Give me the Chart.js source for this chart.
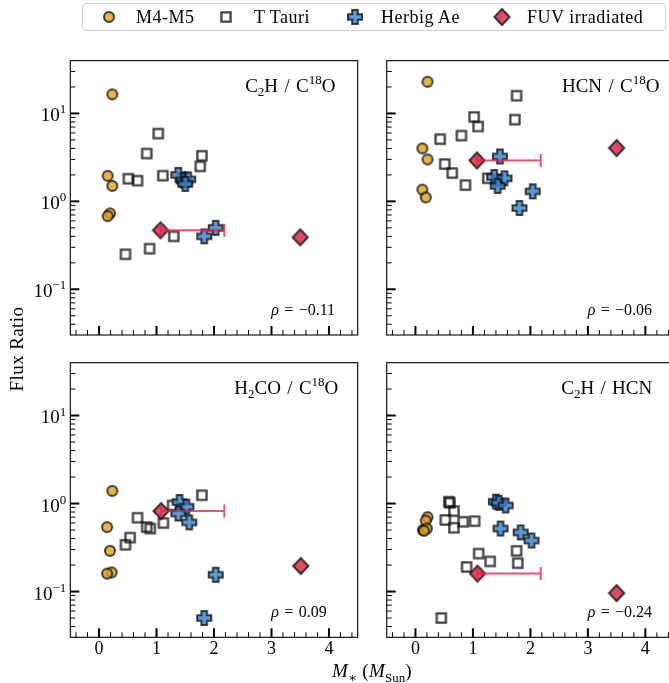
<!DOCTYPE html>
<html>
<head>
<meta charset="utf-8">
<script src="https://cdn.jsdelivr.net/npm/chart.js@4.4.1/dist/chart.umd.min.js"></script>
<style>
    body { margin: 0; background: #fff; width: 669px; height: 683px; overflow: hidden; position: relative;
           font-family: 'Liberation Serif', 'DejaVu Serif', serif; color: #000; }
    canvas.panel { position: absolute; left: 0; top: 0; }
    .abs { position: absolute; white-space: nowrap; }
    #legendBox { left: 82px; top: 3px; width: 584px; height: 28px; border: 1px solid #cfcfcf; border-radius: 4px; box-sizing: border-box; }
    .lg { font-size: 18px; letter-spacing: 0.5px; line-height: 20px; top: 7px; }
    .ax { font-size: 19px; letter-spacing: 0.4px; line-height: 20px; }
    sub, sup { font-size: 13px; line-height: 0; letter-spacing: 0; }
</style>
</head>
<body>
<canvas id="tl" class="panel" width="680" height="683"></canvas>
<canvas id="tr" class="panel" width="680" height="683"></canvas>
<canvas id="bl" class="panel" width="680" height="683"></canvas>
<canvas id="br" class="panel" width="680" height="683"></canvas>

<div id="legendBox" class="abs"></div>
<canvas id="lm0" class="abs" width="22" height="22" style="left:98px;top:6px"></canvas>
<span class="abs lg" style="left:136px">M4-M5</span>
<canvas id="lm1" class="abs" width="22" height="22" style="left:215px;top:6px"></canvas>
<span class="abs lg" style="left:254px">T Tauri</span>
<canvas id="lm2" class="abs" width="22" height="22" style="left:344px;top:6px"></canvas>
<span class="abs lg" style="left:381px">Herbig Ae</span>
<canvas id="lm3" class="abs" width="22" height="22" style="left:491px;top:6px"></canvas>
<span class="abs lg" style="left:527px">FUV irradiated</span>

<div class="abs ax" style="left:-33px;top:339px;width:100px;text-align:center;transform:rotate(-90deg)">Flux Ratio</div>
<div class="abs ax" style="left:312px;top:661px;width:120px;text-align:center"><i>M</i><sub>∗</sub> (<i>M</i><sub>Sun</sub>)</div>

<script>
// C2H / C18O
const c2h_M45 = [[0.23, 16.5], [0.15, 1.95], [0.23, 1.5], [0.19, 0.73], [0.15, 0.68]];
const c2h_TTau = [[1.03, 5.9], [0.83, 3.5], [0.51, 1.81], [0.67, 1.72], [1.11, 1.96], [1.79, 3.3],
                  [1.76, 2.5], [1.45, 1.85], [1.30, 0.40], [0.88, 0.29], [0.46, 0.25]];
const c2h_HAe = [[1.38, 2.0], [1.47, 1.72], [1.55, 1.78], [1.50, 1.58], [1.83, 0.40], [2.03, 0.50]];
const c2h_FUV = [[1.07, 0.47], [3.50, 0.39]];

// HCN / C18O
const hcn_M45 = [[0.21, 22.9], [0.12, 4.0], [0.21, 3.0], [0.12, 1.36], [0.18, 1.11]];
const hcn_TTau = [[1.76, 15.9], [1.02, 9.1], [1.09, 7.1], [1.73, 8.5], [0.80, 5.6], [0.43, 5.1],
                  [0.51, 2.66], [0.64, 2.1], [0.87, 1.53], [1.26, 1.83], [1.43, 1.70]];
const hcn_HAe = [[1.47, 3.24], [1.37, 1.89], [1.55, 1.83], [1.43, 1.5], [2.04, 1.30], [1.81, 0.84]];
const hcn_FUV = [[1.07, 2.92], [3.50, 4.04]];

// H2CO / C18O
const h2co_M45 = [[0.23, 1.39], [0.14, 0.54], [0.19, 0.29], [0.22, 0.165], [0.14, 0.16]];
const h2co_TTau = [[1.79, 1.24], [0.67, 0.69], [0.83, 0.54], [0.89, 0.52], [1.12, 0.60],
                   [0.54, 0.41], [0.46, 0.34], [1.28, 0.95]];
const h2co_HAe = [[1.40, 1.04], [1.52, 0.92], [1.38, 0.77], [1.57, 0.61], [2.03, 0.155], [1.83, 0.050]];
const h2co_FUV = [[1.08, 0.82], [3.51, 0.195]];

// C2H / HCN
const c2hHcn_M45 = [[0.21, 0.70], [0.18, 0.64], [0.13, 0.50], [0.20, 0.52], [0.15, 0.49]];
const c2hHcn_TTau = [[0.58, 1.05], [0.60, 1.02], [0.67, 0.82], [0.52, 0.65], [0.67, 0.53], [0.83, 0.62],
                     [1.03, 0.63], [1.76, 0.29], [1.78, 0.21], [1.10, 0.27], [1.30, 0.22], [0.89, 0.19], [0.45, 0.050]];
const c2hHcn_HAe = [[1.40, 1.05], [1.45, 1.02], [1.57, 0.95], [1.48, 0.52], [1.83, 0.47], [2.02, 0.38]];
const c2hHcn_FUV = [[1.08, 0.16], [3.50, 0.096]];

// upper end of the stellar mass error bar for the FUV irradiated sources
const fuvMassUpper = [2.18, null];

const rhoValues = ['−0.11', '−0.06', '0.09', '−0.24'];
const xTickLabels = ['0', '1', '2', '3', '4'];
const yTickExps = [-1, 0, 1];

const X_MIN = -0.5, X_MAX = 4.5;
const Y_MIN = 0.0302, Y_MAX = 39.8;
const SERIF = "'Liberation Serif', 'DejaVu Serif', serif";
const SP = '\u2004'; // wider space, closer to TeX math spacing

// marker images (matplotlib-like, alpha 0.8)
function drawMarker(c, kind) {
    const g = c.getContext('2d');
    g.clearRect(0, 0, c.width, c.height);
    g.save();
    g.translate(c.width / 2, c.height / 2);
    g.globalAlpha = 0.8;
    g.lineJoin = 'miter';
    g.strokeStyle = '#111';
    g.lineWidth = 2;
    g.beginPath();
    if (kind === 'circle') {
        g.arc(0, 0, 5, 0, Math.PI * 2);
        g.fillStyle = '#DDA118';
        g.fill();
    } else if (kind === 'square') {
        g.lineWidth = 2.3;
        g.rect(-4.6, -4.6, 9.2, 9.2);
    } else if (kind === 'cross') {
        const a = 2.8, l = 7;
        g.moveTo(-a, -l); g.lineTo(a, -l); g.lineTo(a, -a); g.lineTo(l, -a); g.lineTo(l, a); g.lineTo(a, a);
        g.lineTo(a, l); g.lineTo(-a, l); g.lineTo(-a, a); g.lineTo(-l, a); g.lineTo(-l, -a); g.lineTo(-a, -a);
        g.closePath();
        g.fillStyle = '#3182CD';
        g.fill();
    } else {
        g.moveTo(0, -8); g.lineTo(7.6, 0); g.lineTo(0, 8); g.lineTo(-7.6, 0);
        g.closePath();
        g.fillStyle = '#D81E3D';
        g.fill();
    }
    g.stroke();
    g.restore();
    return c;
}

function newMarker(kind) {
    const c = document.createElement('canvas');
    c.width = 22; c.height = 22;
    return drawMarker(c, kind);
}

const markers = {
    circle: newMarker('circle'),
    square: newMarker('square'),
    cross: newMarker('cross'),
    diamond: newMarker('diamond')
};
['circle', 'square', 'cross', 'diamond'].forEach((k, i) => drawMarker(document.getElementById('lm' + i), k));

// text with sub/superscripts: parts = [[text, mode]], mode '', 'sub', 'sup', 'i'
function drawRich(ctx, parts, x, y, size, align) {
    const small = Math.round(size * 0.68);
    const fontFor = m => (m === 'i' ? 'italic ' : '') + (m === 'sub' || m === 'sup' ? small : size) + 'px ' + SERIF;
    let total = 0;
    parts.forEach(p => { ctx.font = fontFor(p[1]); total += ctx.measureText(p[0]).width; });
    let cx = align === 'right' ? x - total : align === 'center' ? x - total / 2 : x;
    ctx.textAlign = 'left';
    ctx.textBaseline = 'alphabetic';
    parts.forEach(p => {
        ctx.font = fontFor(p[1]);
        let dy = 0;
        if (p[1] === 'sub') dy = size * 0.25;
        if (p[1] === 'sup') dy = -size * 0.42;
        ctx.fillText(p[0], cx, y + dy);
        cx += ctx.measureText(p[0]).width;
    });
}

const decoPlugin = {
    id: 'deco',
    afterDatasetsDraw(chart, args, o) {
        const { ctx, scales: { x, y } } = chart;
        // x error bars of the FUV irradiated sources
        ctx.save();
        ctx.strokeStyle = 'rgba(228, 35, 72, 0.78)';
        ctx.lineWidth = 2;
        o.fuv.forEach((p, i) => {
            const hi = fuvMassUpper[i];
            if (hi == null) return;
            const py = y.getPixelForValue(p[1]);
            const x0 = x.getPixelForValue(p[0]), x1 = x.getPixelForValue(hi);
            ctx.beginPath();
            ctx.moveTo(x0, py); ctx.lineTo(x1, py);
            ctx.moveTo(x0, py - 6.5); ctx.lineTo(x0, py + 6.5);
            ctx.moveTo(x1, py - 6.5); ctx.lineTo(x1, py + 6.5);
            ctx.stroke();
        });
        ctx.restore();
    },
    afterDraw(chart, args, o) {
        const { ctx, chartArea: a, scales: { x, y } } = chart;
        ctx.save();
        ctx.fillStyle = '#000';
        ctx.strokeStyle = '#000';

        // frame
        ctx.lineWidth = 1.1;
        ctx.strokeRect(a.left, a.top, a.right - a.left, a.bottom - a.top);

        // x ticks, inward
        for (let i = -2; i <= 22; i++) {
            const v = i / 5;
            const px = x.getPixelForValue(v);
            const major = i % 5 === 0;
            ctx.lineWidth = major ? 2 : 1;
            ctx.beginPath();
            ctx.moveTo(px, a.bottom);
            ctx.lineTo(px, a.bottom - (major ? 9 : 5));
            ctx.stroke();
        }
        // y ticks, inward
        for (let e = -2; e <= 1; e++) {
            for (let k = 1; k <= 9; k++) {
                const v = k * Math.pow(10, e);
                if (v < Y_MIN || v > Y_MAX) continue;
                const py = y.getPixelForValue(v);
                ctx.lineWidth = k === 1 ? 2 : 1;
                ctx.beginPath();
                ctx.moveTo(a.left, py);
                ctx.lineTo(a.left + (k === 1 ? 9 : 5), py);
                ctx.stroke();
            }
        }

        if (o.showX) {
            ctx.font = '18px ' + SERIF;
            ctx.textAlign = 'center';
            ctx.textBaseline = 'alphabetic';
            xTickLabels.forEach(t => ctx.fillText(t, x.getPixelForValue(Number(t)), a.bottom + 17));
        }
        if (o.showY) {
            yTickExps.forEach(e => {
                const py = y.getPixelForValue(Math.pow(10, e));
                drawRich(ctx, [['10', ''], [e < 0 ? '−' + (-e) : String(e), 'sup']], a.left - 4, py + 8, 19, 'right');
            });
        }

        // panel title and correlation coefficient
        drawRich(ctx, o.title, a.left + o.titleDx, a.top + 31, 19, 'center');
        drawRich(ctx, [['ρ', 'i'], [SP + '=' + SP + o.rho, '']], a.left + 201, a.bottom - 20, 16, 'left');
        ctx.restore();
    }
};

const toXY = arr => arr.map(p => ({ x: p[0], y: p[1] }));

function makePanel(id, m45, ttau, hae, fuv, pad, deco) {
    deco.fuv = fuv;
    return new Chart(document.getElementById(id), {
        type: 'scatter',
        data: {
            datasets: [
                { label: 'M4-M5', data: toXY(m45), pointStyle: markers.circle, order: 4 },
                { label: 'T Tauri', data: toXY(ttau), pointStyle: markers.square, order: 3 },
                { label: 'Herbig Ae', data: toXY(hae), pointStyle: markers.cross, order: 2 },
                { label: 'FUV irradiated', data: toXY(fuv), pointStyle: markers.diamond, order: 1 }
            ]
        },
        options: {
            responsive: false,
            animation: false,
            events: [],
            clip: false,
            layout: { padding: pad },
            scales: {
                x: { type: 'linear', display: false, min: X_MIN, max: X_MAX },
                y: { type: 'logarithmic', display: false, min: Y_MIN, max: Y_MAX }
            },
            plugins: {
                legend: { display: false },
                tooltip: { enabled: false },
                deco: deco
            }
        },
        plugins: [decoPlugin]
    });
}

makePanel('tl', c2h_M45, c2h_TTau, c2h_HAe, c2h_FUV,
    { left: 70.3, top: 60.7, right: 322.3, bottom: 348 },
    { showX: false, showY: true, rho: rhoValues[0], titleDx: 220,
      title: [['C', ''], ['2', 'sub'], ['H' + SP + '/' + SP + 'C', ''], ['18', 'sup'], ['O', '']] });
makePanel('tr', hcn_M45, hcn_TTau, hcn_HAe, hcn_FUV,
    { left: 386.7, top: 60.7, right: 5.9, bottom: 348 },
    { showX: false, showY: false, rho: rhoValues[1], titleDx: 224,
      title: [['HCN' + SP + '/' + SP + 'C', ''], ['18', 'sup'], ['O', '']] });
makePanel('bl', h2co_M45, h2co_TTau, h2co_HAe, h2co_FUV,
    { left: 70.3, top: 362.7, right: 322.3, bottom: 45.7 },
    { showX: true, showY: true, rho: rhoValues[2], titleDx: 216,
      title: [['H', ''], ['2', 'sub'], ['CO' + SP + '/' + SP + 'C', ''], ['18', 'sup'], ['O', '']] });
makePanel('br', c2hHcn_M45, c2hHcn_TTau, c2hHcn_HAe, c2hHcn_FUV,
    { left: 386.7, top: 362.7, right: 5.9, bottom: 45.7 },
    { showX: true, showY: false, rho: rhoValues[3], titleDx: 220,
      title: [['C', ''], ['2', 'sub'], ['H' + SP + '/' + SP + 'HCN', '']] });
</script>
</body>
</html>
